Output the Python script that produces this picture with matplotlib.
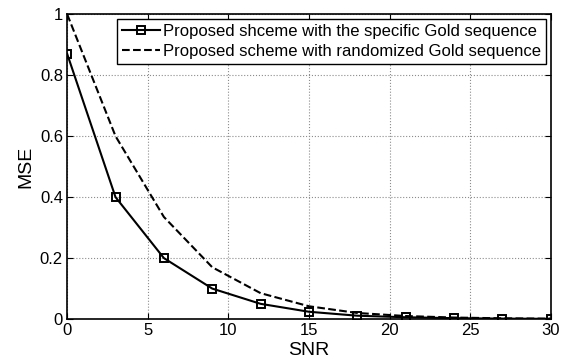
import matplotlib.pyplot as plt
import matplotlib.ticker as mticker

plt.rcParams['font.family'] = ['Liberation Sans', 'DejaVu Sans']

# SNR points
snr = [0, 3, 6, 9, 12, 15, 18, 21, 24, 27, 30]
# MSE, specific Gold sequence
mse_specific = [0.87, 0.40, 0.20, 0.10, 0.05, 0.024, 0.011, 0.006, 0.003, 0.0015, 0.0008]
# MSE, randomized Gold sequence
mse_random = [1.0, 0.60, 0.335, 0.17, 0.085, 0.042, 0.02, 0.01, 0.005, 0.0025, 0.0012]

labels = ['Proposed shceme with the specific Gold sequence',
          'Proposed scheme with randomized Gold sequence']

fig = plt.figure(figsize=(5.69, 3.63), dpi=100)
ax = fig.add_axes([0.118, 0.121, 0.850, 0.840])

ax.plot(snr, mse_specific, 'k-', marker='s', markersize=6, markerfacecolor='none',
        markeredgewidth=1.4, linewidth=1.5, label=labels[0])
ax.plot(snr, mse_random, 'k--', linewidth=1.5, label=labels[1])

ax.set_xlim(0, 30)
ax.set_ylim(0, 1)
ax.set_xticks([0, 5, 10, 15, 20, 25, 30])
ax.set_yticks([0, 0.2, 0.4, 0.6, 0.8, 1])
ax.yaxis.set_major_formatter(mticker.FormatStrFormatter('%g'))
ax.tick_params(direction='in', top=True, right=True, labelsize=12, length=4, pad=3)
ax.grid(True, linestyle=':', color='0.55', linewidth=0.8)
for s in ax.spines.values():
    s.set_linewidth(1.2)

ax.set_xlabel('SNR', fontsize=14, labelpad=3)
ax.set_ylabel('MSE', fontsize=14, labelpad=4)

leg = ax.legend(loc='upper right', fontsize=12, fancybox=False, edgecolor='k',
                framealpha=1, borderaxespad=0.3, handlelength=2.3,
                borderpad=0.3, labelspacing=0.3, handletextpad=0.15)
leg.get_frame().set_linewidth(1.0)

fig.savefig('out.png', dpi=100)
